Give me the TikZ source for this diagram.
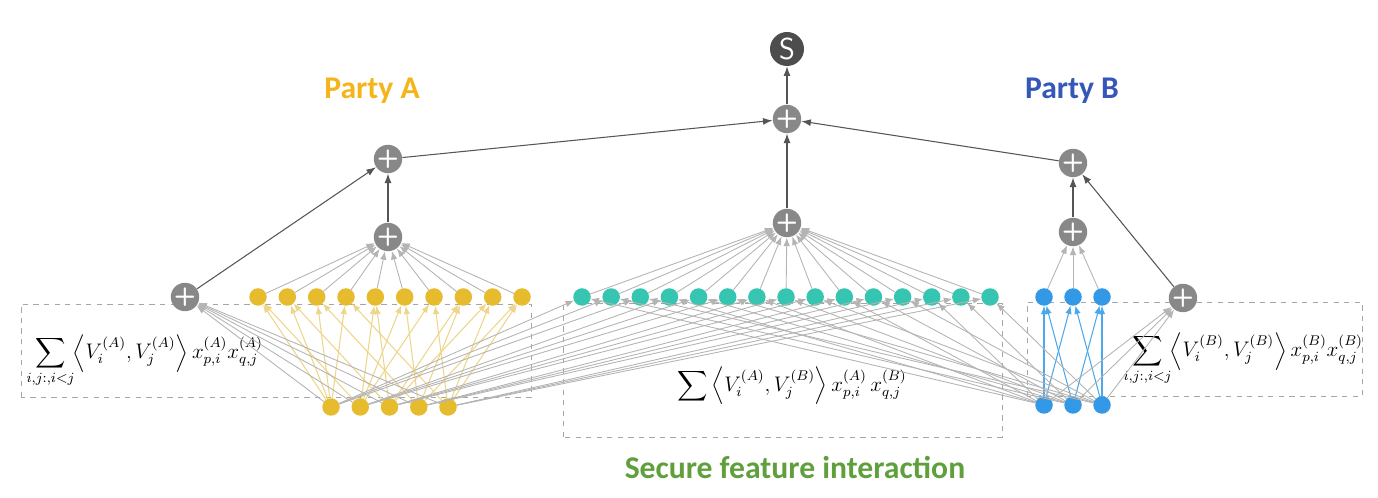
\documentclass[tikz,border=0pt]{standalone}
\usepackage[no-math]{fontspec}
\usepackage{amsmath,mathtools}
\newfontfamily\partyfont{Carlito}
\usetikzlibrary{arrows.meta}
\definecolor{yelA}{HTML}{E6BC2E}
\definecolor{tealAB}{HTML}{36C5B0}
\definecolor{bluB}{HTML}{3399E6}
\definecolor{plusgray}{HTML}{888888}
\definecolor{sgray}{HTML}{4D4D4D}
\definecolor{lightedge}{HTML}{B4B4B4}
\definecolor{yeledge}{HTML}{EDD58A}
\definecolor{bluedge}{HTML}{4BA8EC}
\definecolor{darkedge}{HTML}{555555}
\definecolor{partyAcol}{HTML}{F4B41A}
\definecolor{partyBcol}{HTML}{3557B7}
\definecolor{securecol}{HTML}{5FA03C}

\begin{document}
\begin{tikzpicture}[F/.style={circle, fill=#1, minimum size=3.5mm, inner sep=0pt, outer sep=0pt},
P/.style={circle, fill=plusgray, text=white, minimum size=5.6mm, inner sep=0pt, font=\sffamily\bfseries\Large},
lG/.style={draw=lightedge, line width=0.5pt, -{Latex[length=1.7mm,width=1.3mm]}},
lY/.style={draw=yeledge, line width=0.6pt, -{Latex[length=1.7mm,width=1.3mm]}},
lB/.style={draw=bluedge, line width=0.6pt, -{Latex[length=1.7mm,width=1.3mm]}},
lD/.style={draw=darkedge, line width=0.6pt, -{Latex[length=1.9mm,width=1.4mm]}},
box/.style={draw=black!35, dashed, line width=0.5pt},
party/.style={font=\partyfont\bfseries\fontsize{18}{20}\selectfont}]
%
\useasboundingbox (0,0) rectangle (27.56,9.96);
%\draw[help lines, color=gray!30, dashed] (0,0) grid (28,10);

% dashed boxes
\draw[box] (0.42,2.02) rectangle (10.62,3.88);
\draw[box] (11.26,1.22) rectangle (20.04,3.90);
\draw[box] (20.54,2.04) rectangle (27.24,3.92);

% formulas
\node[anchor=west, inner sep=0pt] at (0.70,2.74) (fA) {\large$\displaystyle\sum_{\mathclap{i,j:,i<j}}\,\left\langle V_i^{(A)},V_j^{(A)}\right\rangle x_{p,i}^{(A)}x_{q,j}^{(A)}$};
\node[inner sep=0pt] at (15.84,2.24) (fAB) {\large$\displaystyle\sum\left\langle V_i^{(A)},V_j^{(B)}\right\rangle x_{p,i}^{(A)}\,x_{q,j}^{(B)}$};
\node[anchor=west, inner sep=0pt] at (22.64,2.78) (fB) {\large$\displaystyle\sum_{\mathclap{i,j:,i<j}}\,\left\langle V_i^{(B)},V_j^{(B)}\right\rangle x_{p,i}^{(B)}x_{q,j}^{(B)}$};

% feature nodes
\foreach \k in {1,...,5} \node[F=yelA] at (6.62+0.585*\k-0.585,1.82) (a\k) {};
\foreach \k in {1,...,3} \node[F=bluB] at (20.88+0.58*\k-0.58,1.86) (b\k) {};
\foreach \k in {1,...,10} \node[F=yelA] at (5.16+0.5867*\k-0.5867,4.02) (pa\k) {};
\foreach \k in {1,...,15} \node[F=tealAB] at (11.64+0.5829*\k-0.5829,4.02) (pab\k) {};
\foreach \k in {1,...,3} \node[F=bluB] at (20.88+0.58*\k-0.58,4.02) (pb\k) {};

% sum nodes
\node[P] at (3.70,4.02) (sumA) {+};
\node[P] at (7.76,5.22) (aggA) {+};
\node[P] at (7.76,6.78) (topA) {+};
\node[P] at (15.74,5.50) (aggAB) {+};
\node[P] at (15.74,7.58) (top) {+};
\node[P, fill=sgray, minimum size=6.8mm, font=\sffamily\LARGE] at (15.74,8.98) (S) {S};
\node[P] at (21.46,6.70) (topB) {+};
\node[P] at (21.46,5.32) (aggB) {+};
\node[P] at (23.66,4.00) (sumB) {+};

% pairwise products
\foreach \i/\j [count=\k] in {1/2,1/3,1/4,1/5,2/3,2/4,2/5,3/4,3/5,4/5} {
  \draw[lY] (a\i) -- (pa\k);
  \draw[lY] (a\j) -- (pa\k);
}
\foreach \i/\j [count=\k] in {1/2,1/3,2/3} {
  \draw[lB] (b\i) -- (pb\k);
  \draw[lB] (b\j) -- (pb\k);
}
\foreach \i in {1,...,5} \foreach \j in {1,...,3} {
  \pgfmathtruncatemacro\m{3*(\i-1)+\j}
  \draw[lG] (a\i) -- (pab\m);
  \draw[lG] (b\j) -- (pab\m);
}

% linear parts
\foreach \k in {1,...,5} \draw[lG] (a\k) -- (sumA);
\foreach \k in {1,...,3} \draw[lG] (b\k) -- (sumB);

% aggregation
\foreach \k in {1,...,10} \draw[lG] (pa\k) -- (aggA);
\foreach \k in {1,...,15} \draw[lG] (pab\k) -- (aggAB);
\foreach \k in {1,...,3} \draw[lG] (pb\k) -- (aggB);

\draw[lD] (sumA) -- (topA);
\draw[lD] (aggA) -- (topA);
\draw[lD] (aggB) -- (topB);
\draw[lD] (sumB) -- (topB);
\draw[lD] (topA) -- (top);
\draw[lD] (aggAB) -- (top);
\draw[lD] (topB) -- (top);
\draw[lD] (top) -- (S);

% labels
\node[party, text=partyAcol] at (7.44,8.14) (lA) {Party A};
\node[party, text=partyBcol] at (21.44,8.14) (lB) {Party B};
\node[party, text=securecol] at (15.90,0.62) (lS) {Secure feature interaction};

\end{tikzpicture}
\end{document}
